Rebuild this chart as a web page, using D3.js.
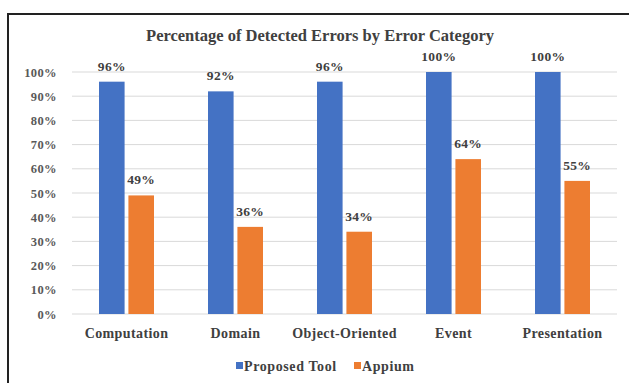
<!DOCTYPE html>
<html><head><meta charset="utf-8">
<script src="https://cdn.jsdelivr.net/npm/d3@7"></script>
<style>body{margin:0;background:#fff;} svg{display:block;}</style>
</head><body>
<svg id="c" width="629" height="383"></svg>
<script>
const categories = ["Computation","Domain","Object-Oriented","Event","Presentation"];
const seriesNames = ["Proposed Tool","Appium"];
const proposedTool = [96,92,96,100,100];
const appium = [49,36,34,64,55];
const yTicks = [0,10,20,30,40,50,60,70,80,90,100];
const colors = ["#4472C4","#ED7D31"];
const title = "Percentage of Detected Errors by Error Category";

const svg = d3.select("#c");
const font = "'Liberation Serif','Times New Roman',serif";
// frame
svg.append("rect").attr("x",8).attr("y",14).attr("width",640).attr("height",400)
  .attr("fill","#fff").attr("stroke","#222").attr("stroke-width",2);

const x0 = d3.scaleBand().domain(categories).range([72,617]).paddingInner(0).paddingOuter(0);
const x1 = d3.scaleBand().domain(seriesNames).range([27,82]).paddingInner(0.13);
const y = d3.scaleLinear().domain([0,100]).range([314,72]);

// gridlines
svg.append("g").selectAll("line").data(yTicks).join("line")
  .attr("x1",72).attr("x2",617).attr("y1",d=>y(d)).attr("y2",d=>y(d))
  .attr("stroke","#d9d9d9").attr("stroke-width",1);

// y axis labels
const yAxis = d3.axisLeft(y).tickValues(yTicks).tickFormat(d=>d+"%").tickSize(0).tickPadding(0);
const ya = svg.append("g").attr("transform","translate(57,0)").call(yAxis);
ya.select(".domain").remove();
ya.selectAll("text").attr("font-family",font).attr("font-size",12.5).attr("font-weight","bold")
  .attr("letter-spacing",0.4).attr("fill","#595959");

// bars
const data = categories.map((c,i)=>({c, vals:[proposedTool[i],appium[i]]}));
const g = svg.append("g").selectAll("g").data(data).join("g")
  .attr("transform",d=>`translate(${x0(d.c)},0)`);
g.selectAll("rect").data(d=>d.vals.map((v,j)=>({s:seriesNames[j],v,j}))).join("rect")
  .attr("x",d=>x1(d.s)).attr("width",x1.bandwidth())
  .attr("y",d=>y(d.v)).attr("height",d=>y(0)-y(d.v))
  .attr("fill",d=>colors[d.j]);
g.selectAll("text").data(d=>d.vals.map((v,j)=>({s:seriesNames[j],v,j}))).join("text")
  .attr("x",d=>x1(d.s)+x1.bandwidth()/2).attr("y",d=>y(d.v)-11)
  .attr("text-anchor","middle").attr("font-family",font).attr("font-size",13.5)
  .attr("font-weight","bold").attr("letter-spacing",0.3).attr("fill","#404040").text(d=>d.v+"%");

// x axis labels
const xAxis = d3.axisBottom(x0).tickSize(0).tickPadding(0);
const xa = svg.append("g").attr("transform","translate(0,328)").call(xAxis);
xa.select(".domain").remove();
xa.selectAll("text").attr("font-family",font).attr("font-size",14).attr("font-weight","bold")
  .attr("letter-spacing",0.4).attr("fill","#404040");

// title
svg.append("text").attr("x",320).attr("y",41).attr("text-anchor","middle")
  .attr("font-family",font).attr("font-size",16.5).attr("font-weight","bold").attr("fill","#404040").text(title);

// legend
const leg = svg.append("g");
const legX = [236, 354];
seriesNames.forEach((s,i)=>{
  leg.append("rect").attr("x",legX[i]).attr("y",362).attr("width",7).attr("height",7).attr("fill",colors[i]);
  leg.append("text").attr("x",legX[i]+8).attr("y",370.5).attr("font-family",font).attr("font-size",14)
    .attr("font-weight","bold").attr("letter-spacing",0.6).attr("fill","#404040").text(s);
});
</script>
</body></html>
